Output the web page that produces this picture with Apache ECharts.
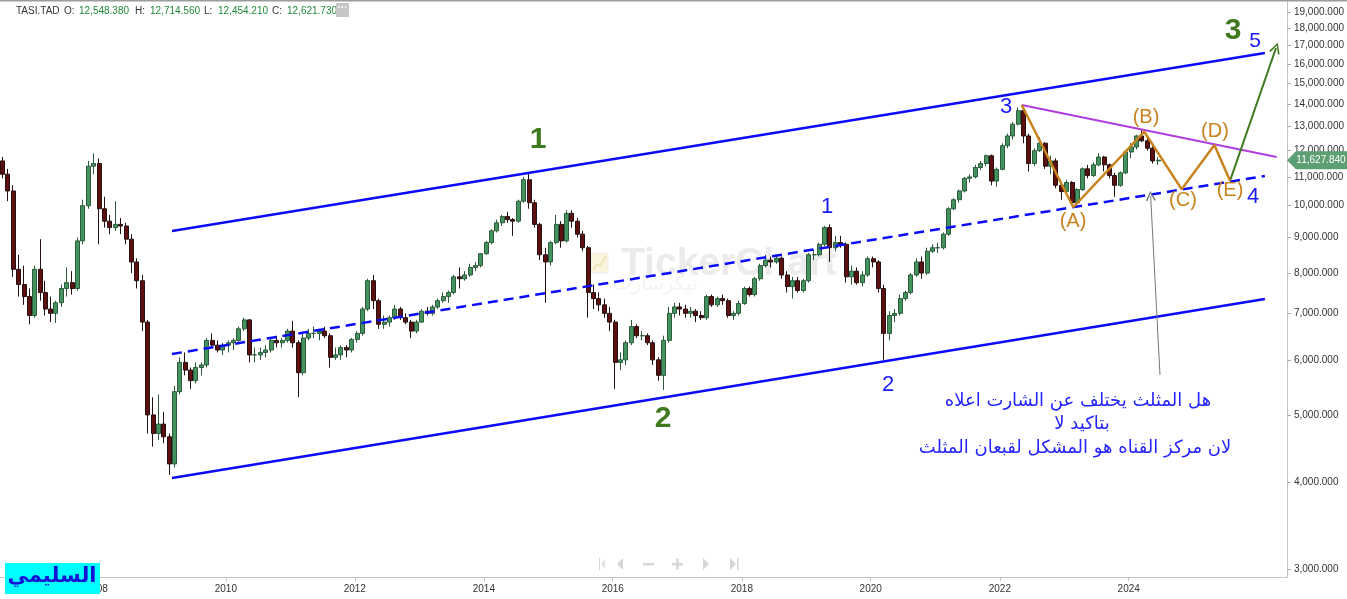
<!DOCTYPE html>
<html><head><meta charset="utf-8">
<script src="https://cdn.jsdelivr.net/npm/echarts@6/dist/echarts.min.js"></script>
<style>html,body{margin:0;padding:0;background:#fff;overflow:hidden}#c{width:1347px;height:599px}</style>
</head><body><div id="c"></div>
<script>
// ---- monthly OHLC (first candle = July 2006) ----
const firstMonth = [2006, 7];
const open = [
11600,11100,10500,8100,7700,7400,
6950,8100,7500,7100,7000,7250,7600,7750,7600,8900,10000,11400,
11500,9900,9500,9300,9400,9350,8950,8300,7800,6800,5000,4700,
4850,4650,4250,5400,5950,5800,5600,5850,5900,6400,6300,6200,
6300,6350,6400,6650,6850,6100,6100,6150,6200,6400,6350,6400,
6600,6350,5750,6450,6550,6550,6600,6500,6050,6100,6250,6200,
6420,6550,7100,7800,7300,6750,6800,6900,7100,6900,6800,6600,
6800,7050,7000,7150,7300,7400,7500,7900,7850,7950,8150,8200,
8530,8850,9200,9450,9650,9550,9500,10150,10900,10100,9400,8500,
8300,8850,9400,8900,9750,9500,9100,8700,7500,7350,7200,7000,
6800,5950,6000,6350,6700,6500,6500,6350,6000,5700,6400,7000,
7150,7100,7000,7050,6950,6900,7400,7200,7350,7300,6950,7000,
7230,7600,7450,7850,8200,8350,8300,8400,7950,7650,7800,7550,
7800,8500,8500,8800,9300,8700,8850,8800,7900,8050,7750,7950,
8390,8300,7600,6550,6950,7000,7350,7500,7950,8300,8000,8600,
8700,8700,9100,9900,10200,10500,10950,11000,11350,11500,11800,10850,
11280,12200,12600,13100,13700,12600,11500,12000,12300,11400,11600,10700,
10480,10800,10100,10550,11300,11050,11450,11750,11450,11050,10700,11150,
11950,12150,12600,12400,12100,11600];
const high = [
11750,11300,10700,8500,8200,7600,
8200,8950,7800,7400,7300,7700,8150,8050,9000,10200,11600,11900,
11700,10300,9700,10150,9600,9450,9100,8400,7950,6850,5300,5350,
5050,4700,5500,6050,6150,5850,5950,5950,6450,6550,6400,6350,
6400,6450,6700,6900,6870,6250,6250,6300,6450,6500,6450,6650,
6830,6400,6550,6650,6700,6650,6700,6550,6250,6300,6300,6450,
6600,7150,7850,7950,7350,6950,6950,7200,7150,7000,6850,6850,
7100,7150,7200,7350,7500,7550,7950,8150,8050,8250,8300,8550,
8900,9250,9550,9700,9800,9600,10200,11000,11150,10200,9450,8700,
8900,9700,9500,9850,9850,9600,9200,8750,7700,7500,7350,7150,
6850,6150,6400,6850,6750,6600,6550,6400,6050,6500,7150,7250,
7250,7200,7150,7100,7050,7450,7450,7400,7450,7350,7050,7300,
7650,7650,7900,8250,8500,8450,8500,8450,8050,7900,7900,7850,
8550,8650,8850,9350,9400,9050,9050,8850,8200,8150,8050,8450,
8450,8350,7700,7050,7100,7450,7550,8000,8400,8450,8700,8800,
8850,9150,9950,10250,10550,11000,11100,11450,11600,11850,11850,11350,
12300,12700,13200,13850,13900,12700,12100,12550,12350,11800,11700,10800,
10900,10850,10600,11350,11450,11550,11900,11800,11500,11150,11200,12000,
12300,12650,12880,12550,12200,11750];
const low = [
10950,10150,7900,7400,7200,6750,
6900,7300,6950,6800,6780,7150,7400,7450,7550,8800,9900,11100,
8800,9300,9100,9200,9100,8800,8000,7600,6600,4700,4500,4600,
4550,4100,4200,5350,5700,5450,5550,5700,5850,6250,6150,6100,
6150,6200,6350,6600,5950,5950,6000,6050,6150,6250,6250,6350,
6250,5300,5700,6400,6450,6400,6450,5850,6000,6000,6050,6150,
6350,6500,7050,7100,6650,6650,6700,6850,6850,6750,6450,6550,
6780,6950,6950,7100,7250,7250,7450,7600,7800,7900,8050,8150,
8500,8800,9150,9350,9450,9050,9450,10100,9900,9300,8350,7250,
8200,8800,8700,8850,9300,9000,8600,6900,7100,7050,6900,6600,
5450,5800,5900,6300,6450,6400,6300,5900,5600,5430,6350,6900,
6950,6900,6900,6800,6850,6850,7150,7150,7200,6900,6850,6950,
7200,7400,7400,7800,8150,8150,8250,7850,7500,7350,7500,7500,
7750,8350,8450,8750,8300,8600,8700,7750,7700,7700,7650,7900,
8150,7500,6000,6400,6800,6950,7300,7450,7900,7850,7950,8550,
8550,8650,9050,9850,10100,10450,10800,10950,11250,11400,10700,10650,
11250,12100,12450,13050,12300,11200,11400,11950,11300,11100,10600,10200,
10450,10050,9950,10500,10950,11000,11400,11200,10950,10300,10650,11100,
11700,12050,12350,12000,11500,11450];
const close = [
11100,10500,8100,7700,7400,6950,
8100,7500,7100,7000,7250,7600,7750,7600,8900,10000,11400,11500,
9900,9500,9300,9400,9350,8950,8300,7800,6800,5000,4700,4850,
4650,4250,5400,5950,5800,5600,5850,5900,6400,6300,6200,6300,
6350,6400,6650,6850,6100,6100,6150,6200,6400,6350,6400,6600,
6350,5750,6450,6550,6550,6600,6500,6050,6100,6250,6200,6420,
6550,7100,7800,7300,6750,6800,6900,7100,6900,6800,6600,6800,
7050,7000,7150,7300,7400,7500,7900,7850,7950,8150,8200,8530,
8850,9200,9450,9650,9550,9500,10150,10900,10100,9400,8500,8300,
8850,9400,8900,9750,9500,9100,8700,7500,7350,7200,7000,6800,
5950,6000,6350,6700,6500,6500,6350,6000,5700,6400,7000,7150,
7100,7000,7050,6950,6900,7400,7200,7350,7300,6950,7000,7230,
7600,7450,7850,8200,8350,8300,8400,7950,7650,7800,7550,7800,
8500,8500,8800,9300,8700,8850,8800,7900,8050,7750,7950,8390,
8300,7600,6550,6950,7000,7350,7500,7950,8300,8000,8600,8700,
8700,9100,9900,10200,10500,10950,11000,11350,11500,11800,10850,11280,
12200,12600,13100,13700,12600,11500,12000,12300,11400,11600,10700,10480,
10800,10100,10550,11300,11050,11450,11750,11450,11050,10700,11150,11950,
12150,12600,12400,12100,11600,11628];

// ---- axis ticks ----
const yTicks = [3000,4000,5000,6000,7000,8000,9000,10000,11000,12000,13000,14000,15000,16000,17000,18000,19000];
const xYears = [2008,2010,2012,2014,2016,2018,2020,2022,2024];

// ---- drawn annotations [date, value] ----
const channelUpper = [['2009-03-02', 9196], ['2026-02-10', 16587]];
const channelMid   = [['2009-03-02', 6118], ['2026-02-10', 11035]];
const channelLower = [['2009-03-02', 4057], ['2026-02-10', 7340]];
const triangleTop  = [['2022-05-05', 13961], ['2026-04-18', 11752]];
const wavePath     = [['2022-05-05', 13961], ['2023-02-21', 9949], ['2024-03-29', 12779], ['2024-10-27', 10558], ['2025-04-30', 12229], ['2025-07-28', 10864]];
const greenArrow   = [['2025-07-28', 10864], ['2026-04-14', 16865]];
const grayArrow    = [['2024-06-26', 5708], ['2024-05-04', 10327]];

const ts = s => new Date(s + 'T00:00:00Z').getTime();
const L = Math.log;
const candleData = open.map((o, i) => {
  const mIdx = firstMonth[1] - 1 + i;
  const t = Date.UTC(firstMonth[0] + Math.floor(mIdx / 12), mIdx % 12, 15);
  return [t, L(o), L(close[i]), L(low[i]), L(high[i])];
});
const pts = arr => arr.map(p => [ts(p[0]), L(p[1])]);
const fmtNum = v => Math.round(v).toLocaleString('en-US') + '.000';
const chevron = 'path://M0,10 L5,0 L10,10 L8.6,10.7 L5,2.8 L1.4,10.7 Z';
const FONT = 'Liberation Sans';
const yearTs = xYears.map(y => Date.UTC(y, 0, 1));

const chart = echarts.init(document.getElementById('c'), null, {renderer: 'canvas'});
const lineSeries = (data, color, width, type, z) => ({
  type: 'line', data: pts(data), showSymbol: false, symbol: 'none', silent: true, z: z || 5,
  lineStyle: {color, width, type: type || 'solid'}, animation: false
});
chart.setOption({
  animation: false,
  backgroundColor: '#ffffff',
  grid: {left: 0, right: 60, top: 0, bottom: 22},
  xAxis: {
    type: 'value', min: Date.UTC(2006, 6, 2), max: Date.UTC(2026, 5, 15),
    axisLine: {show: true, lineStyle: {color: '#c4c4c4', width: 1}},
    axisTick: {show: true, length: 4, lineStyle: {color: '#c4c4c4'}, customValues: yearTs},
    axisLabel: {customValues: yearTs, formatter: v => String(new Date(v).getUTCFullYear()),
      color: '#333', fontSize: 10, fontFamily: FONT, margin: 7, showMinLabel: true, showMaxLabel: true},
    splitLine: {show: false}
  },
  yAxis: {
    type: 'value', position: 'right', min: L(2922), max: L(19771),
    axisLine: {show: true, lineStyle: {color: '#c4c4c4', width: 1}},
    axisTick: {show: true, length: 4, lineStyle: {color: '#aaaaaa'}, customValues: yTicks.map(L)},
    axisLabel: {customValues: yTicks.map(L), formatter: v => fmtNum(Math.exp(v)), color: '#333', fontSize: 10, fontFamily: FONT, margin: 7},
    splitLine: {show: false}
  },
  series: [
    {
      type: 'candlestick', data: candleData, encode: {x: 0, y: [1, 2, 3, 4]}, barWidth: 4.5, z: 3, silent: true,
      itemStyle: {color: '#44935f', color0: '#5e1010', borderColor: '#2c5a3a', borderColor0: '#241010', borderWidth: 1}
    },
    lineSeries(channelUpper, '#0a0aff', 2.5),
    lineSeries(channelLower, '#0a0aff', 2.5),
    lineSeries(channelMid, '#0a0aff', 2.5, [10, 6]),
    lineSeries(triangleTop, '#b03ee0', 2),
    lineSeries(wavePath, '#c8821e', 2.5, 'solid', 6),
    {
      type: 'lines', coordinateSystem: 'cartesian2d', silent: true, z: 6,
      symbol: ['none', chevron], symbolSize: [11, 11],
      lineStyle: {color: '#3f7a1f', width: 2, opacity: 1},
      data: [{coords: pts(greenArrow)}]
    },
    {
      type: 'lines', coordinateSystem: 'cartesian2d', silent: true, z: 6,
      symbol: ['none', chevron], symbolSize: [10, 10],
      lineStyle: {color: '#777777', width: 1, opacity: 1},
      data: [{coords: pts(grayArrow)}]
    }
  ]
});

// ---- text / decorations ----
const T = (x, y, text, fill, size, opts) => Object.assign({
  type: 'text', x, y, z: 100,
  style: Object.assign({text, fill, fontSize: size, fontFamily: FONT, align: 'center', verticalAlign: 'middle'}, (opts && opts.style) || {})
}, opts && opts.el || {});
const lastIdx = close.length - 1;
const lastY = chart.convertToPixel({gridIndex: 0}, [candleData[lastIdx][0], L(close[lastIdx])])[1];
const AR = 'DejaVu Sans';
const graphics = [
  {type: 'rect', shape: {x: 0, y: 0, width: 1347, height: 1.5}, style: {fill: '#9c9c9c'}, z: 50},
  {type: 'rect', shape: {x: 591, y: 253, width: 17, height: 20}, style: {fill: '#fbf4de', stroke: '#ececec', lineWidth: 1}, z: 0},
  {type: 'polyline', shape: {points: [[593, 270], [597, 264], [600, 266], [606, 256]]}, style: {stroke: '#f0e2b0', lineWidth: 1.5, fill: null}, z: 0},
  {type: 'text', x: 621, y: 264, z: 0, style: {text: 'TickerChart', fill: '#ebebeb', fontSize: 39, fontWeight: 'bold', fontFamily: FONT, align: 'left', verticalAlign: 'middle'}},
  {type: 'text', x: 655, y: 285, z: 0, style: {text: 'تيكرشارت', fill: '#f4f4f4', fontSize: 20, fontFamily: AR, align: 'center', verticalAlign: 'middle'}},
  T(16, 11, 'TASI.TAD', '#333', 10, {style: {align: 'left'}}),
  T(64, 11, 'O:', '#333', 10, {style: {align: 'left'}}),
  T(79, 11, '12,548.380', '#21893a', 10, {style: {align: 'left'}}),
  T(135, 11, 'H:', '#333', 10, {style: {align: 'left'}}),
  T(150, 11, '12,714.560', '#21893a', 10, {style: {align: 'left'}}),
  T(204, 11, 'L:', '#333', 10, {style: {align: 'left'}}),
  T(218, 11, '12,454.210', '#21893a', 10, {style: {align: 'left'}}),
  T(272, 11, 'C:', '#333', 10, {style: {align: 'left'}}),
  T(287, 11, '12,621.730', '#21893a', 10, {style: {align: 'left'}}),
  {type: 'rect', shape: {x: 336, y: 3, width: 13, height: 14}, style: {fill: '#c6c6c6'}, z: 100},
  T(342.5, 8, '···', '#ffffff', 10, {style: {fontWeight: 'bold'}}),
  {type: 'polygon', shape: {points: [[1287, lastY], [1296, lastY - 9], [1347, lastY - 9], [1347, lastY + 9], [1296, lastY + 9]]}, style: {fill: '#5c9f73'}, z: 100},
  T(1321, lastY, '11,627.840', '#ffffff', 10),
  T(538, 140, '1', '#3f7a1f', 30, {style: {fontWeight: 'bold'}}),
  T(663, 419, '2', '#3f7a1f', 30, {style: {fontWeight: 'bold'}}),
  T(1233, 31, '3', '#3f7a1f', 30, {style: {fontWeight: 'bold'}}),
  T(1255, 41, '5', '#1a1aff', 21),
  T(827, 207, '1', '#1a1aff', 22),
  T(888, 385, '2', '#1a1aff', 22),
  T(1006, 107, '3', '#1a1aff', 22),
  T(1253, 197, '4', '#1a1aff', 22),
  T(1073, 221, '(A)', '#c8821e', 20),
  T(1146, 117, '(B)', '#c8821e', 20),
  T(1183, 200, '(C)', '#c8821e', 20),
  T(1215, 131, '(D)', '#c8821e', 20),
  T(1230, 190, '(E)', '#c8821e', 20),
  T(1078, 401, 'هل المثلث يختلف عن الشارت اعلاه', '#2424ff', 18, {style: {fontFamily: AR}}),
  T(1082, 424, 'بتاكيد لا', '#2424ff', 18, {style: {fontFamily: AR}}),
  T(1075, 448, 'لان مركز القناه هو المشكل لقبعان المثلث', '#2424ff', 18, {style: {fontFamily: AR}}),
  {type: 'rect', shape: {x: 5, y: 563, width: 95, height: 31}, style: {fill: '#00ffff'}, z: 100},
  T(52, 577, 'السليمي', '#1414d8', 21, {style: {fontFamily: AR, fontWeight: 'bold'}}),
  {type: 'rect', shape: {x: 599, y: 558, width: 1, height: 12}, style: {fill: '#d6d6d6'}, z: 100},
  {type: 'polygon', shape: {points: [[605, 559], [601, 564], [605, 569]]}, style: {fill: '#e2e2e2'}, z: 100},
  {type: 'polygon', shape: {points: [[623, 558], [617, 564], [623, 570]]}, style: {fill: '#d6d6d6'}, z: 100},
  {type: 'rect', shape: {x: 643, y: 563, width: 11, height: 2.5}, style: {fill: '#d6d6d6'}, z: 100},
  {type: 'rect', shape: {x: 672, y: 563, width: 11, height: 2.5}, style: {fill: '#d6d6d6'}, z: 100},
  {type: 'rect', shape: {x: 676.3, y: 558.5, width: 2.5, height: 11}, style: {fill: '#d6d6d6'}, z: 100},
  {type: 'polygon', shape: {points: [[703, 558], [709, 564], [703, 570]]}, style: {fill: '#d6d6d6'}, z: 100},
  {type: 'polygon', shape: {points: [[730, 558], [736, 564], [730, 570]]}, style: {fill: '#d6d6d6'}, z: 100},
  {type: 'rect', shape: {x: 737, y: 558, width: 1.5, height: 12}, style: {fill: '#d6d6d6'}, z: 100}
];
chart.setOption({graphic: graphics});
</script>
</body></html>
